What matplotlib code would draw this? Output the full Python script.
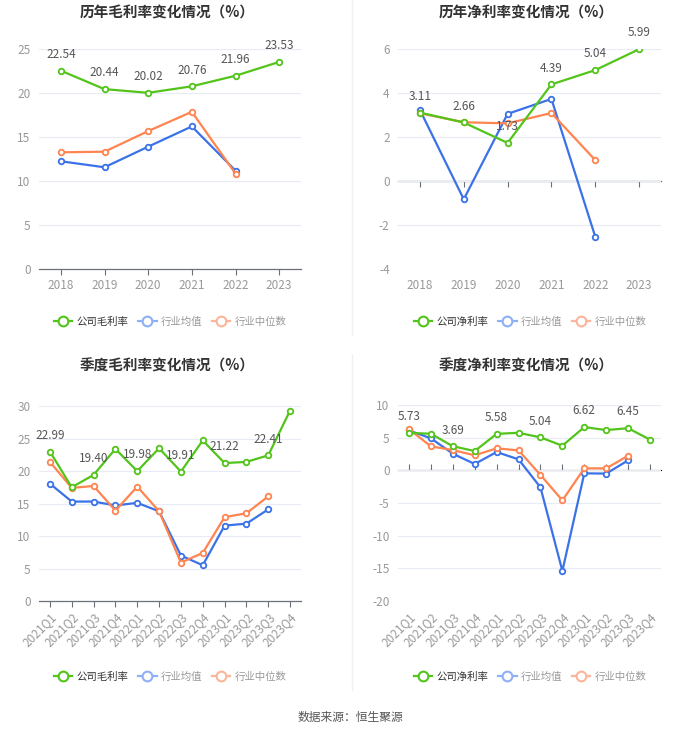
import numpy as np
import matplotlib
matplotlib.use("Agg")
import matplotlib.pyplot as plt
from matplotlib.lines import Line2D

plt.rcParams['font.family'] = ['Noto Sans CJK SC', 'DejaVu Sans']
plt.rcParams['axes.unicode_minus'] = False

##
#    Data
##
years = ['2018', '2019', '2020', '2021', '2022', '2023']
quarters = ['2021Q1', '2021Q2', '2021Q3', '2021Q4', '2022Q1', '2022Q2',
            '2022Q3', '2022Q4', '2023Q1', '2023Q2', '2023Q3', '2023Q4']

gross_year_co = [22.54, 20.44, 20.02, 20.76, 21.96, 23.53]
gross_year_avg = [12.24, 11.56, 13.90, 16.20, 11.18]
gross_year_med = [13.26, 13.33, 15.67, 17.86, 10.84]

net_year_co = [3.11, 2.66, 1.73, 4.39, 5.04, 5.99]
net_year_avg = [3.23, -0.83, 3.05, 3.73, -2.53]
net_year_med = [3.08, 2.67, 2.62, 3.09, 0.95]

gross_q_co = [22.99, 17.5, 19.40, 23.4, 19.98, 23.5, 19.91, 24.7, 21.22, 21.4, 22.41, 29.3]
gross_q_avg = [18.05, 15.3, 15.3, 14.7, 15.1, 13.8, 7.0, 5.5, 11.6, 11.9, 14.1]
gross_q_med = [21.4, 17.4, 17.7, 13.9, 17.6, 13.8, 5.9, 7.4, 12.9, 13.5, 16.1]

net_q_co = [5.73, 5.6, 3.69, 2.95, 5.58, 5.75, 5.04, 3.77, 6.62, 6.16, 6.45, 4.69]
net_q_avg = [6.1, 4.9, 2.55, 0.97, 2.8, 1.68, -2.6, -15.4, -0.46, -0.5, 1.53]
net_q_med = [6.3, 3.67, 3.1, 2.3, 3.36, 3.06, -0.7, -4.6, 0.3, 0.3, 2.24]

green = '#52C41A'
blue = '#3B72E8'
orange = '#FF8450'

W, H = 700, 734
fig = plt.figure(figsize=(W / 100, H / 100), dpi=100)


def px_axes(x0, y0, x1, y1):
    #  pixel box (top-left origin) -> figure axes
    return fig.add_axes([x0 / W, 1 - y1 / H, (x1 - x0) / W, (y1 - y0) / H])


def panel(box, cats, co, avg, med, ylim, yticks, label_idx, title, title_xy,
          co_name, legend_xy, rotate):
    ax = px_axes(*box)
    x = np.arange(len(cats))
    ax.set_xlim(-0.5, len(cats) - 0.5)
    ax.set_ylim(*ylim)
    ax.set_yticks(yticks)
    ax.grid(axis='y', color='#e6ebf5', linewidth=0.8)
    ax.set_axisbelow(True)
    for s in ['top', 'right', 'left', 'bottom']:
        ax.spines[s].set_visible(False)
    ax.tick_params(axis='y', length=0, labelsize=8.5, labelcolor='#999999', pad=6)
    ax.set_xticks(x)
    if rotate:
        ax.set_xticklabels(cats, rotation=45, ha='right', rotation_mode='anchor')
    else:
        ax.set_xticklabels(cats)
    ax.tick_params(axis='x', length=0, labelsize=8.5, labelcolor='#999999', pad=7)

    #  axis line at zero with tick marks
    zloc = (0 - ylim[0]) / (ylim[1] - ylim[0])
    sec = ax.secondary_xaxis(zloc)
    sec.set_xticks(x)
    sec.set_xticklabels([])
    sec.tick_params(axis='x', length=4, color='#6e7079', width=0.8)
    sec.spines['bottom'].set_color('#6e7079')
    sec.spines['bottom'].set_linewidth(0.9)

    mk = dict(marker='o', markersize=4, markerfacecolor='white', markeredgewidth=1.3,
              linewidth=1.6)
    ax.plot(x[:len(avg)], avg, color=blue, markeredgecolor=blue, zorder=3, **mk)
    ax.plot(x[:len(med)], med, color=orange, markeredgecolor=orange, zorder=3, **mk)
    ax.plot(x, co, color=green, markeredgecolor=green, zorder=4, **mk)
    for i in label_idx:
        ax.annotate('%.2f' % co[i], (x[i], co[i]), xytext=(0, 7),
                    textcoords='offset points', ha='center', va='bottom',
                    fontsize=8.5, color='#555555', zorder=5)

    fig.text(title_xy[0] / W, 1 - title_xy[1] / H, title, ha='center', va='center',
             fontsize=10.5, fontweight='bold', color='#333333')

    handles = [
        Line2D([], [], color=green, marker='o', markersize=7, markerfacecolor='white',
               markeredgecolor=green, markeredgewidth=1.5, linewidth=1.6),
        Line2D([], [], color='#8fb0f5', marker='o', markersize=7, markerfacecolor='white',
               markeredgecolor='#8fb0f5', markeredgewidth=1.5, linewidth=1.6),
        Line2D([], [], color='#fbb59a', marker='o', markersize=7, markerfacecolor='white',
               markeredgecolor='#fbb59a', markeredgewidth=1.5, linewidth=1.6),
    ]
    leg = fig.legend(handles, [co_name, '行业均值', '行业中位数'], loc='center',
                     bbox_to_anchor=(legend_xy[0] / W, 1 - legend_xy[1] / H), ncol=3,
                     frameon=False, fontsize=7.5, handlelength=1.8, handletextpad=0.4,
                     columnspacing=0.9)
    for t, c in zip(leg.get_texts(), ['#333333', '#999999', '#999999']):
        t.set_color(c)
    return ax


panel((39, 49, 301, 269), years, gross_year_co, gross_year_avg, gross_year_med,
      (0, 25), [0, 5, 10, 15, 20, 25], range(6), '历年毛利率变化情况（%）', (167, 13),
      '公司毛利率', (170, 322), False)
panel((398, 49, 661, 269), years, net_year_co, net_year_avg, net_year_med,
      (-4, 6), [-4, -2, 0, 2, 4, 6], range(6), '历年净利率变化情况（%）', (526, 13),
      '公司净利率', (530, 322), False)
panel((39, 406, 301, 601), quarters, gross_q_co, gross_q_avg, gross_q_med,
      (0, 30), [0, 5, 10, 15, 20, 25, 30], range(0, 12, 2), '季度毛利率变化情况（%）', (167, 366),
      '公司毛利率', (170, 677), True)
panel((398, 405, 661, 601), quarters, net_q_co, net_q_avg, net_q_med,
      (-20, 10), [-20, -15, -10, -5, 0, 5, 10], range(0, 12, 2), '季度净利率变化情况（%）', (526, 366),
      '公司净利率', (530, 677), True)

#  faint separators between the panels
for y0, y1 in [(0, 335), (355, 690)]:
    fig.add_artist(Line2D([352 / W, 352 / W], [1 - y1 / H, 1 - y0 / H],
                          transform=fig.transFigure, color='#f0f0f0', linewidth=1))

fig.text(350 / W, 1 - 717 / H, '数据来源：恒生聚源', ha='center', va='center',
         fontsize=8.5, color='#555555')

plt.savefig('out.png', dpi=100)
